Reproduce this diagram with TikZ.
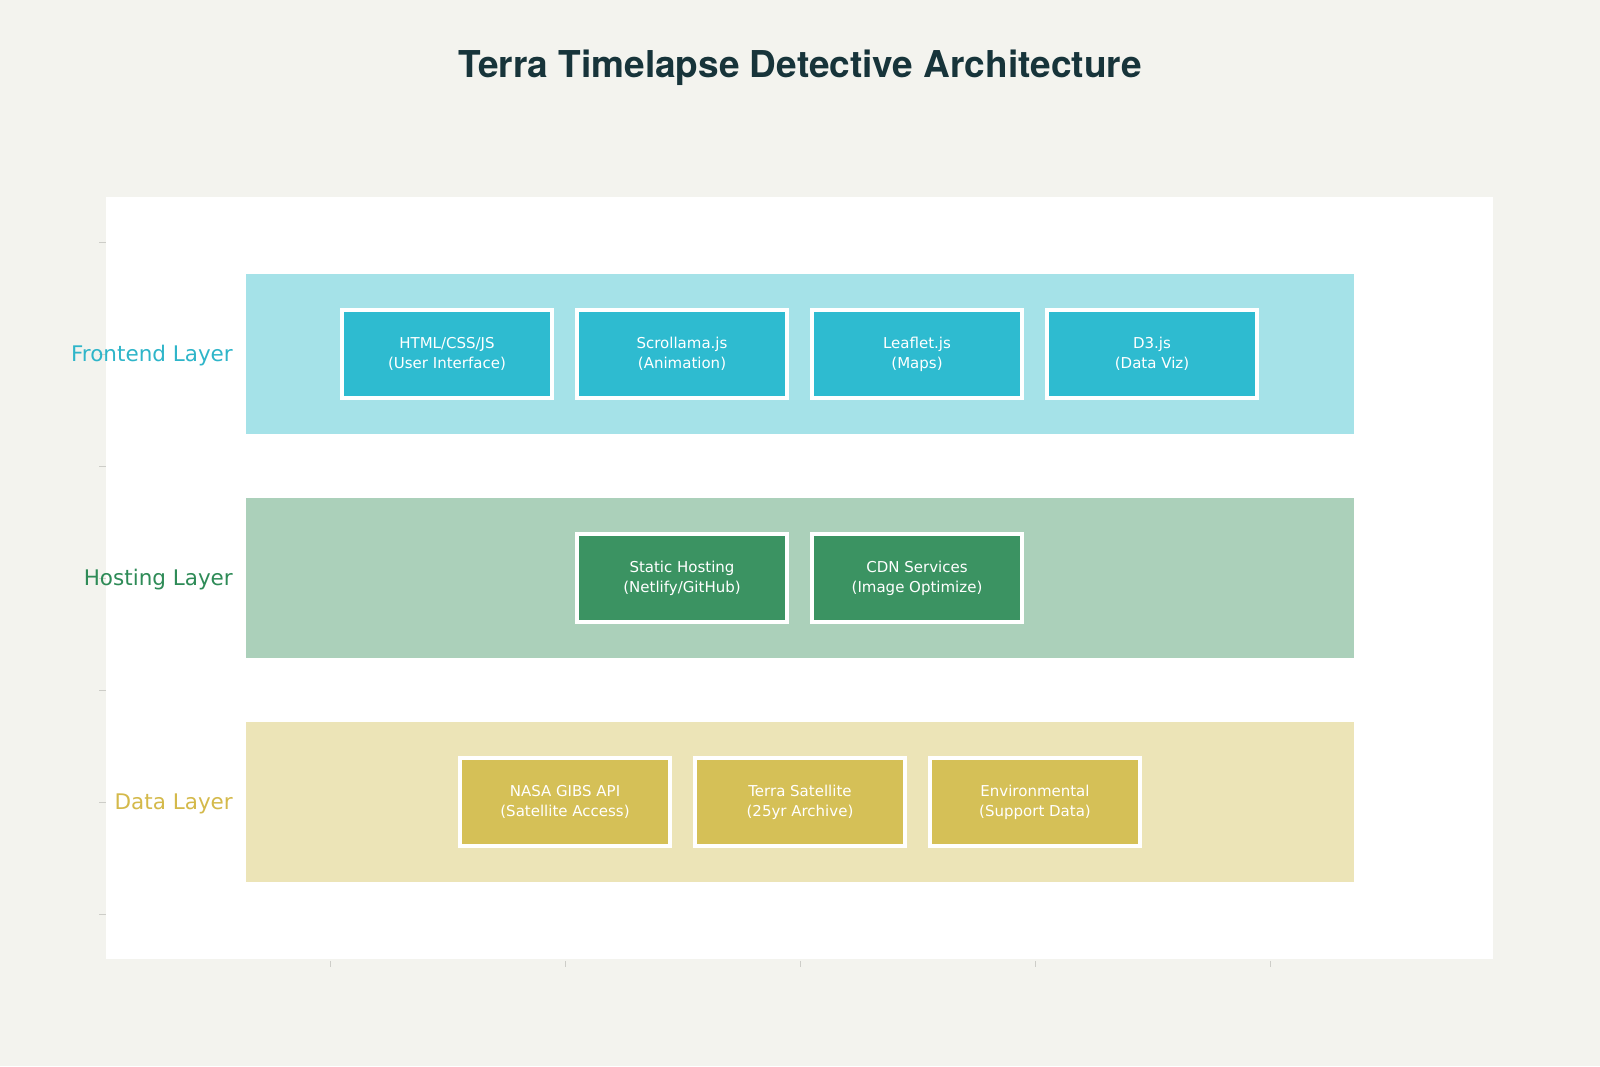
\documentclass[tikz,border=0pt]{standalone}
\usepackage{fontspec}
\setmainfont{DejaVu Sans}
\newfontfamily\titlefont{TeX Gyre Heros}
\usepackage{tikz}
\usetikzlibrary{positioning}

\definecolor{pagebg}{HTML}{F3F3EE}
\definecolor{titlecol}{HTML}{17343A}
\definecolor{tickcol}{HTML}{CDCDC8}
\definecolor{frontband}{HTML}{A5E2E8}
\definecolor{frontbox}{HTML}{2EBBD0}
\definecolor{fronttext}{HTML}{2EB5C9}
\definecolor{hostband}{HTML}{ABD0BA}
\definecolor{hostbox}{HTML}{3B9362}
\definecolor{hosttext}{HTML}{2E8B57}
\definecolor{databand}{HTML}{ECE4B7}
\definecolor{databox}{HTML}{D5C057}
\definecolor{datatext}{HTML}{D4B94A}

\begin{document}
\begin{tikzpicture}[x=1pt, y=-1pt, node distance=235pt]

% Define styles
\tikzstyle{band} = [rectangle, inner sep=0pt, minimum width=1108pt, minimum height=160pt]
\tikzstyle{comp} = [rectangle, draw=white, line width=3.5pt, inner sep=0pt, minimum width=210pt, minimum height=88pt, align=center, text=white, font=\fontsize{15}{20}\selectfont]
\tikzstyle{layer} = [anchor=east, inner sep=0pt, font=\fontsize{21.5}{24}\selectfont]

% Canvas
\fill [pagebg] (0,0) rectangle (1600,1066);
\useasboundingbox (0,0) rectangle (1600,1066);
\fill [white] (106,197) rectangle (1493,959);
\foreach \y in {242,354,466,578,690,802,914}
  \draw [tickcol, line width=1pt] (99,\y) -- (106,\y);
\foreach \x in {330,565,800,1035,1270}
  \draw [tickcol, line width=1pt] (\x,961) -- (\x,967);

% Title
\node [font=\titlefont\bfseries\fontsize{37}{42}\selectfont, text=titlecol] (title) at (800,68) {Terra Timelapse Detective Architecture};

% Bands
\node [band, fill=frontband] (front) at (800,354) {};
\node [band, fill=hostband] (host) at (800,578) {};
\node [band, fill=databand] (data) at (800,802) {};

% Layer labels
\node [layer, text=fronttext] (frontlbl) at (233,356) {Frontend Layer};
\node [layer, text=hosttext] (hostlbl) at (233,580) {Hosting Layer};
\node [layer, text=datatext] (datalbl) at (233,804) {Data Layer};

% Frontend components
\node [comp, fill=frontbox] (html) at (447,354) {HTML/CSS/JS\\(User Interface)};
\node [comp, fill=frontbox, right of=html] (scroll) {Scrollama.js\\(Animation)};
\node [comp, fill=frontbox, right of=scroll] (leaflet) {Leaflet.js\\(Maps)};
\node [comp, fill=frontbox, right of=leaflet] (dthree) {D3.js\\(Data Viz)};

% Hosting components
\node [comp, fill=hostbox] (static) at (682,578) {Static Hosting\\(Netlify/GitHub)};
\node [comp, fill=hostbox, right of=static] (cdn) {CDN Services\\(Image Optimize)};

% Data components
\node [comp, fill=databox] (gibs) at (565,802) {NASA GIBS API\\(Satellite Access)};
\node [comp, fill=databox, right of=gibs] (terra) {Terra Satellite\\(25yr Archive)};
\node [comp, fill=databox, right of=terra] (env) {Environmental\\(Support Data)};

\end{tikzpicture}
\end{document}
